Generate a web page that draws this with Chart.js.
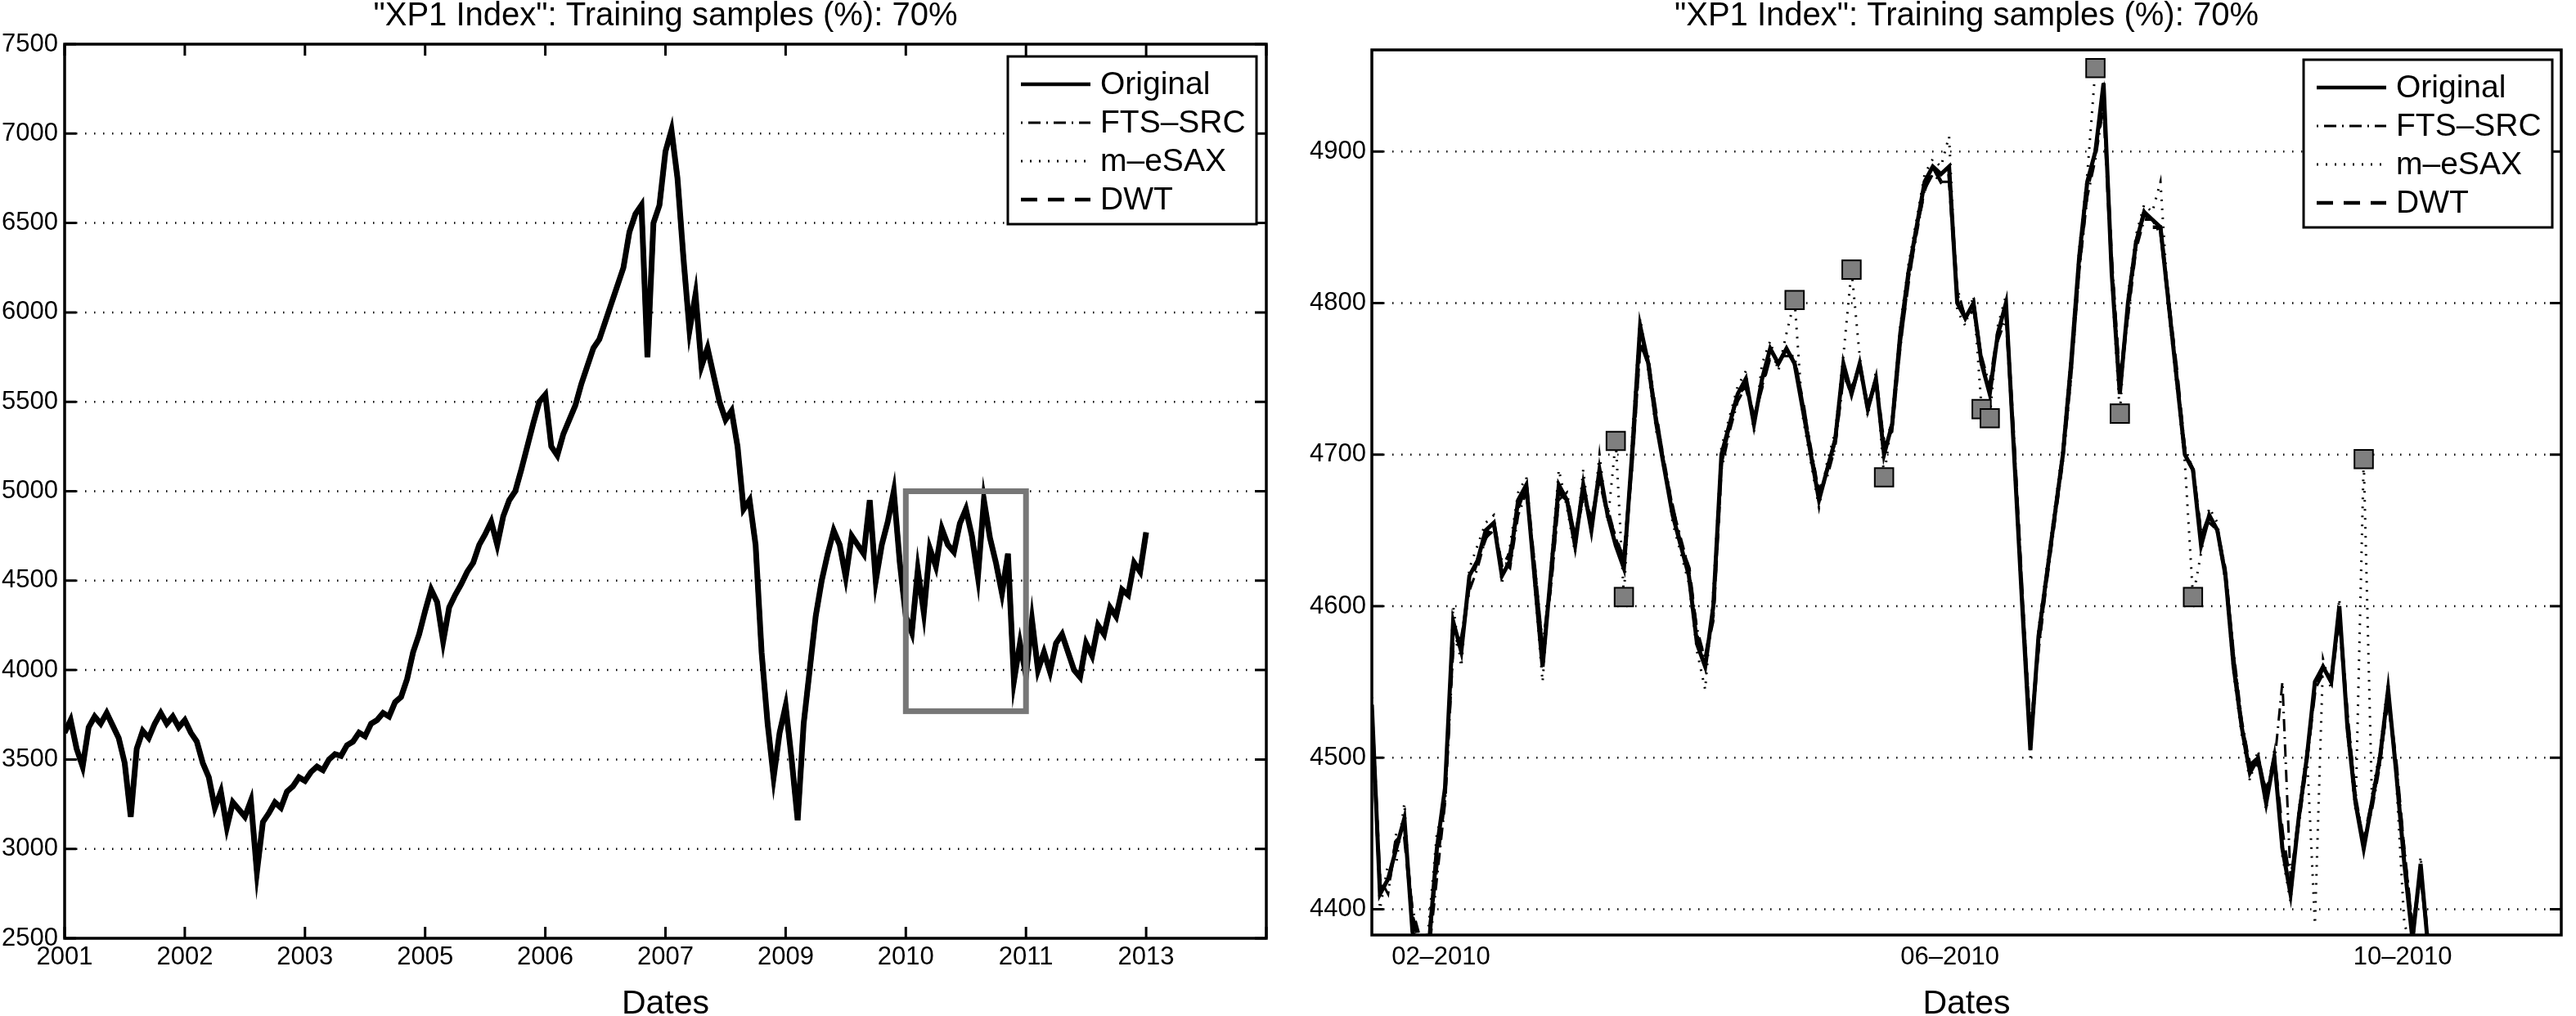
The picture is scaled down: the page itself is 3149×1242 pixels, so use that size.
<!DOCTYPE html>
<html>
<head>
<meta charset="utf-8">
<title>XP1 Index</title>
<script src="https://cdn.jsdelivr.net/npm/chart.js@4.4.1/dist/chart.umd.min.js"></script>
<style>
  html, body { margin: 0; padding: 0; background: #fff; }
  #wrap { position: relative; width: 3149px; height: 1242px; overflow: hidden; background: #fff; }
  #leftBox { position: absolute; left: 0; top: 0; width: 1600px; height: 1242px; }
  #rightBox { position: absolute; left: 1600px; top: 0; width: 1549px; height: 1242px; }
</style>
</head>
<body>
<div id="wrap">
  <div id="leftBox"><canvas id="leftChart" width="1600" height="1242"></canvas></div>
  <div id="rightBox"><canvas id="rightChart" width="1549" height="1242"></canvas></div>
</div>
<script>
// ---- shared text ----
var titleText = '"XP1 Index": Training samples (%): 70%';
var seriesNames = ["Original", "FTS\u2013SRC", "m\u2013eSAX", "DWT"];

// ---- left panel: whole series, one sample every 1/20 of a tick interval ----
var leftTickStep = 20;
var leftYearLabels = ["2001", "2002", "2003", "2005", "2006", "2007", "2009", "2010", "2011", "2013", ""];
var leftYTicks = [2500, 3000, 3500, 4000, 4500, 5000, 5500, 6000, 6500, 7000, 7500];
var leftOriginal = [
  3650, 3720, 3560, 3460, 3680, 3740, 3700, 3760, 3690, 3620,
  3480, 3180, 3560, 3660, 3620, 3700, 3760, 3700, 3740, 3680,
  3720, 3650, 3600, 3480, 3400, 3230, 3320, 3120, 3260, 3220,
  3180, 3270, 2870, 3150, 3200, 3260, 3230, 3320, 3350, 3400,
  3380, 3430, 3460, 3440, 3500, 3530, 3520, 3580, 3600, 3650,
  3630, 3700, 3720, 3760, 3740, 3820, 3850, 3950, 4100, 4200,
  4330, 4450, 4380, 4160, 4350, 4420, 4480, 4550, 4600, 4700,
  4760, 4830, 4700, 4860, 4950, 5000, 5120, 5250, 5380, 5500,
  5540, 5250, 5200, 5320, 5400, 5480, 5600, 5700, 5800, 5850,
  5950, 6050, 6150, 6250, 6450, 6550, 6600, 5750, 6500, 6600,
  6900, 7020, 6750, 6300, 5900, 6100, 5700, 5800, 5650, 5500,
  5400, 5450, 5250, 4900, 4950, 4700, 4100, 3700, 3400, 3650,
  3800, 3500, 3160, 3700, 4000, 4300, 4500, 4650, 4780, 4700,
  4520, 4750, 4700, 4650, 4950, 4500, 4700, 4830, 5000, 4600,
  4300, 4210, 4560, 4320, 4680, 4580, 4790, 4700, 4660, 4820,
  4900, 4750, 4520, 4950, 4740, 4600, 4430, 4650, 3940, 4150,
  3970, 4280, 4000, 4100, 3990, 4150, 4200, 4100, 4000, 3960,
  4150, 4080, 4250, 4200, 4350, 4300, 4450, 4420, 4600, 4550,
  4770
];
// the grey rectangle marking the zoomed period (data units)
var zoomBoxX = [140, 160];
var zoomBoxY = [3770, 5000];

// ---- right panel: 2010 zoom ----
var rightXRange = [0, 146.3];
var rightTickPos = [8.5, 71.1, 126.8];
var rightTickLabels = ["02\u20132010", "06\u20132010", "10\u20132010"];
var rightYRange = [4383, 4967];
var rightYTicks = [4400, 4500, 4600, 4700, 4800, 4900];
var rightOriginal = [
  4535, 4410, 4420, 4440, 4460, 4385, 4370, 4375, 4440, 4480,
  4590, 4570, 4620, 4630, 4650, 4655, 4620, 4630, 4670, 4680,
  4620, 4560, 4620, 4680, 4670, 4640, 4680, 4650, 4690, 4660,
  4640, 4625, 4700, 4785, 4760, 4720, 4690, 4660, 4640, 4620,
  4575, 4560, 4600, 4700, 4720, 4740, 4750, 4720, 4750, 4770,
  4760, 4770, 4760, 4730, 4700, 4670, 4690, 4710, 4760, 4740,
  4760, 4730, 4750, 4700, 4720, 4780, 4820, 4850, 4880, 4890,
  4885, 4890, 4800, 4790, 4800, 4760, 4740, 4780, 4800, 4700,
  4600, 4505, 4580, 4620, 4660, 4700, 4760, 4830, 4880, 4900,
  4945, 4820, 4740, 4800, 4840, 4860, 4855, 4850, 4800, 4750,
  4700, 4690, 4640, 4660, 4650, 4620, 4560, 4520, 4490, 4500,
  4470, 4500, 4440, 4410, 4460, 4500, 4550, 4560, 4550, 4600,
  4520, 4470, 4440, 4470, 4500, 4545, 4490, 4430, 4380, 4430,
  4370
];
var rightFtsSrc = [
  4520, 4420, 4410, 4450, 4455, 4400, 4380, 4370, 4420, 4470,
  4570, 4580, 4610, 4625, 4645, 4650, 4630, 4625, 4660, 4675,
  4630, 4575, 4610, 4670, 4675, 4645, 4670, 4660, 4680, 4665,
  4645, 4630, 4690, 4770, 4765, 4725, 4695, 4665, 4645, 4625,
  4585, 4565, 4590, 4690, 4715, 4735, 4745, 4725, 4745, 4765,
  4765, 4765, 4765, 4735, 4705, 4675, 4685, 4705, 4750, 4745,
  4755, 4735, 4745, 4710, 4715, 4770, 4815, 4845, 4875, 4885,
  4880, 4880, 4810, 4790, 4795, 4765, 4745, 4775, 4790, 4710,
  4610, 4520, 4570, 4615, 4655, 4695, 4750, 4820, 4870, 4895,
  4930, 4830, 4750, 4790, 4835, 4855, 4855, 4845, 4805, 4755,
  4705, 4690, 4650, 4655, 4650, 4625, 4570, 4525, 4495, 4495,
  4480, 4495, 4550, 4420, 4455, 4495, 4545, 4555, 4555, 4590,
  4530, 4475, 4445, 4465, 4495, 4540, 4495, 4440, 4390, 4420,
  4375
];
var rightMeSax = [
  4540, 4400, 4430, 4430, 4470, 4380, 4360, 4390, 4450, 4470,
  4600, 4560, 4625, 4640, 4655, 4660, 4615, 4640, 4675, 4685,
  4615, 4550, 4625, 4690, 4665, 4635, 4690, 4645, 4700, 4655,
  4709, 4606, 4710, 4790, 4755, 4715, 4695, 4655, 4635, 4615,
  4570, 4545, 4610, 4705, 4725, 4745, 4755, 4715, 4760, 4775,
  4755, 4780, 4802, 4725, 4695, 4665, 4695, 4715, 4765, 4822,
  4765, 4725, 4755, 4685, 4725, 4785, 4825, 4855, 4885, 4895,
  4890, 4910, 4795, 4785, 4805, 4730, 4724, 4785, 4805, 4695,
  4595, 4500, 4585, 4625, 4665, 4705, 4765, 4835, 4885, 4955,
  4950, 4815, 4727, 4805, 4845, 4865, 4860, 4880, 4795, 4745,
  4695, 4606, 4635, 4665, 4655, 4615, 4555, 4515, 4485, 4505,
  4465, 4505, 4435, 4405, 4465, 4505, 4390, 4565, 4545, 4605,
  4515, 4465, 4697, 4475, 4505, 4550, 4485, 4390, 4375, 4435,
  4365
];
var rightDwt = [
  4530, 4415, 4415, 4445, 4450, 4395, 4375, 4380, 4430, 4475,
  4580, 4575, 4615, 4630, 4645, 4655, 4625, 4635, 4665, 4680,
  4625, 4570, 4615, 4675, 4670, 4645, 4675, 4655, 4685, 4660,
  4645, 4630, 4695, 4775, 4760, 4725, 4690, 4665, 4640, 4625,
  4580, 4565, 4595, 4695, 4720, 4740, 4745, 4725, 4745, 4765,
  4760, 4770, 4760, 4735, 4700, 4675, 4690, 4710, 4755, 4740,
  4760, 4730, 4750, 4705, 4720, 4775, 4815, 4850, 4875, 4890,
  4880, 4885, 4805, 4790, 4800, 4760, 4745, 4780, 4795, 4705,
  4605, 4510, 4575, 4620, 4660, 4700, 4755, 4825, 4875, 4900,
  4935, 4825, 4745, 4795, 4840, 4860, 4850, 4850, 4800, 4755,
  4700, 4690, 4645, 4660, 4650, 4620, 4565, 4520, 4495, 4500,
  4475, 4500, 4450, 4415, 4460, 4500, 4545, 4560, 4550, 4595,
  4525, 4470, 4445, 4470, 4500, 4540, 4495, 4435, 4385, 4425,
  4375
];
// grey squares on the m-eSAX spikes
var outlierIdx = [30, 31, 52, 59, 63, 75, 76, 89, 92, 101, 122];
var outlierVal = [4709, 4606, 4802, 4822, 4685, 4730, 4724, 4955, 4727, 4606, 4697];

// ---- helpers ----
Chart.defaults.font.family = "'Liberation Sans', Arial, Helvetica, sans-serif";
Chart.defaults.color = "#000";

function toPoints(values) {
  return values.map(function (v, i) { return {x: i, y: v}; });
}

function fixedTicks(values) {
  return function (scale) {
    scale.ticks = values.map(function (v) { return {value: v}; });
  };
}

var lineStyles = [
  {dash: [], width: 4.5},
  {dash: [2, 7, 15, 7], width: 3},
  {dash: [2, 9], width: 3},
  {dash: [20, 13], width: 4.5}
];

function seriesDataset(i, values, width) {
  return {
    label: seriesNames[i],
    data: toPoints(values),
    borderColor: "#000",
    borderWidth: width || lineStyles[i].width,
    borderDash: lineStyles[i].dash,
    legendWidth: lineStyles[i].width,
    pointRadius: 0,
    tension: 0,
    clip: 0
  };
}

// matlab-like frame, inner ticks, dotted grid, legend box
var matlabAxes = {
  id: "matlabAxes",
  beforeDatasetsDraw: function (chart) {
    var ctx = chart.ctx, area = chart.chartArea, ys = chart.scales.y;
    ctx.save();
    ctx.strokeStyle = "#000";
    ctx.lineWidth = 2.5;
    ctx.setLineDash([1.5, 9.5]);
    ys.ticks.forEach(function (t) {
      var py = ys.getPixelForValue(t.value);
      if (py < area.top + 3 || py > area.bottom - 3) return;
      ctx.beginPath();
      ctx.moveTo(area.left + 14, py);
      ctx.lineTo(area.right - 14, py);
      ctx.stroke();
    });
    ctx.restore();
  },
  afterDatasetsDraw: function (chart, args, opts) {
    var ctx = chart.ctx, area = chart.chartArea;
    var xs = chart.scales.x, ys = chart.scales.y;
    ctx.save();
    ctx.setLineDash([]);

    if (opts.boxX) {
      var bx0 = xs.getPixelForValue(opts.boxX[0]), bx1 = xs.getPixelForValue(opts.boxX[1]);
      var by0 = ys.getPixelForValue(opts.boxY[1]), by1 = ys.getPixelForValue(opts.boxY[0]);
      ctx.strokeStyle = "#777";
      ctx.lineWidth = 7;
      ctx.strokeRect(bx0, by0, bx1 - bx0, by1 - by0);
    }

    ctx.strokeStyle = "#000";
    ctx.lineWidth = 3;
    ys.ticks.forEach(function (t) {
      var py = ys.getPixelForValue(t.value);
      ctx.beginPath();
      ctx.moveTo(area.left, py); ctx.lineTo(area.left + 14, py);
      ctx.moveTo(area.right, py); ctx.lineTo(area.right - 14, py);
      ctx.stroke();
    });
    if (opts.xStubs) {
      xs.ticks.forEach(function (t) {
        var px = xs.getPixelForValue(t.value);
        ctx.beginPath();
        ctx.moveTo(px, area.bottom); ctx.lineTo(px, area.bottom - 14);
        ctx.moveTo(px, area.top); ctx.lineTo(px, area.top + 14);
        ctx.stroke();
      });
    }
    ctx.lineWidth = 3.5;
    ctx.strokeRect(area.left, area.top, area.right - area.left, area.bottom - area.top);

    // legend
    var lg = opts.legend;
    var lx = area.right - lg.right - lg.width, ly = area.top + lg.top;
    ctx.fillStyle = "#fff";
    ctx.fillRect(lx, ly, lg.width, lg.height);
    ctx.lineWidth = 3;
    ctx.strokeRect(lx, ly, lg.width, lg.height);
    ctx.font = "39px 'Liberation Sans', Arial, sans-serif";
    ctx.textBaseline = "middle";
    ctx.textAlign = "left";
    ctx.fillStyle = "#000";
    var row = 0;
    chart.data.datasets.forEach(function (ds) {
      if (!ds.label) return;
      var ry = ly + 34 + row * 47;
      ctx.lineWidth = ds.legendWidth;
      ctx.setLineDash(ds.borderDash);
      ctx.beginPath();
      ctx.moveTo(lx + 16, ry);
      ctx.lineTo(lx + 101, ry);
      ctx.stroke();
      ctx.setLineDash([]);
      ctx.fillText(ds.label, lx + 113, ry + 1);
      row++;
    });
    ctx.restore();
  }
};

function baseOptions(opts) {
  return {
    responsive: false,
    animation: false,
    devicePixelRatio: 1,
    layout: {padding: opts.padding},
    plugins: {
      legend: {display: false},
      tooltip: {enabled: false},
      title: {
        display: true,
        text: titleText,
        fullSize: false,
        color: "#000",
        font: {size: 40, weight: "normal", lineHeight: 1},
        padding: opts.titlePadding
      },
      matlabAxes: opts.frame
    },
    scales: {
      x: {
        type: "linear",
        min: opts.xMin,
        max: opts.xMax,
        afterBuildTicks: fixedTicks(opts.xTicks),
        ticks: {
          autoSkip: false,
          maxRotation: 0,
          padding: opts.xTickPad,
          font: {size: 31},
          callback: function (v, i) { return opts.xLabels[i]; }
        },
        grid: {display: false, drawTicks: false},
        border: {display: false},
        title: {
          display: true,
          text: "Dates",
          font: {size: 41, lineHeight: 1},
          padding: {top: 0, bottom: -6.5}
        },
        afterFit: function (s) { s.height = opts.xHeight; }
      },
      y: {
        min: opts.yMin,
        max: opts.yMax,
        afterBuildTicks: fixedTicks(opts.yTicks),
        ticks: {
          padding: opts.yTickPad,
          font: {size: 31},
          callback: function (v) { return String(v); }
        },
        grid: {display: false, drawTicks: false},
        border: {display: false},
        afterFit: function (s) { s.width = opts.yWidth; }
      }
    }
  };
}

// ---- left chart ----
// at this scale the three approximations lie on top of the original,
// so they are drawn from the same readings
new Chart(document.getElementById("leftChart"), {
  type: "line",
  data: {
    datasets: [
      seriesDataset(0, leftOriginal, 7),
      seriesDataset(1, leftOriginal),
      seriesDataset(2, leftOriginal),
      seriesDataset(3, leftOriginal, 6)
    ]
  },
  options: baseOptions({
    padding: {left: 0, right: 52, top: 0, bottom: 0},
    titlePadding: {top: 0, bottom: 14},
    xMin: 0, xMax: leftTickStep * (leftYearLabels.length - 1),
    xTicks: leftYearLabels.map(function (l, i) { return i * leftTickStep; }),
    xLabels: leftYearLabels,
    xTickPad: 5, xHeight: 95,
    yMin: leftYTicks[0], yMax: leftYTicks[leftYTicks.length - 1],
    yTicks: leftYTicks, yTickPad: 8, yWidth: 79,
    frame: {
      xStubs: true,
      boxX: zoomBoxX, boxY: zoomBoxY,
      legend: {right: 12, top: 15, width: 304, height: 205}
    }
  }),
  plugins: [matlabAxes]
});

// ---- right chart ----
var outlierPoints = outlierIdx.map(function (x, i) { return {x: x, y: outlierVal[i]}; });

new Chart(document.getElementById("rightChart"), {
  type: "line",
  data: {
    datasets: [
      {
        data: outlierPoints,
        showLine: false,
        pointStyle: "rect",
        pointRadius: 16,
        pointBackgroundColor: "#7f7f7f",
        pointBorderColor: "#000",
        pointBorderWidth: 2,
        clip: 0
      },
      seriesDataset(0, rightOriginal, 5),
      seriesDataset(1, rightFtsSrc),
      seriesDataset(2, rightMeSax),
      seriesDataset(3, rightDwt)
    ]
  },
  options: baseOptions({
    padding: {left: 0, right: 3, top: 0, bottom: 0},
    titlePadding: {top: 0, bottom: 21},
    xMin: rightXRange[0], xMax: rightXRange[1],
    xTicks: rightTickPos,
    xLabels: rightTickLabels,
    xTickPad: 9, xHeight: 99,
    yMin: rightYRange[0], yMax: rightYRange[1],
    yTicks: rightYTicks, yTickPad: 7, yWidth: 77,
    frame: {
      xStubs: false,
      legend: {right: 11, top: 12, width: 304, height: 205}
    }
  }),
  plugins: [matlabAxes]
});
</script>
</body>
</html>
